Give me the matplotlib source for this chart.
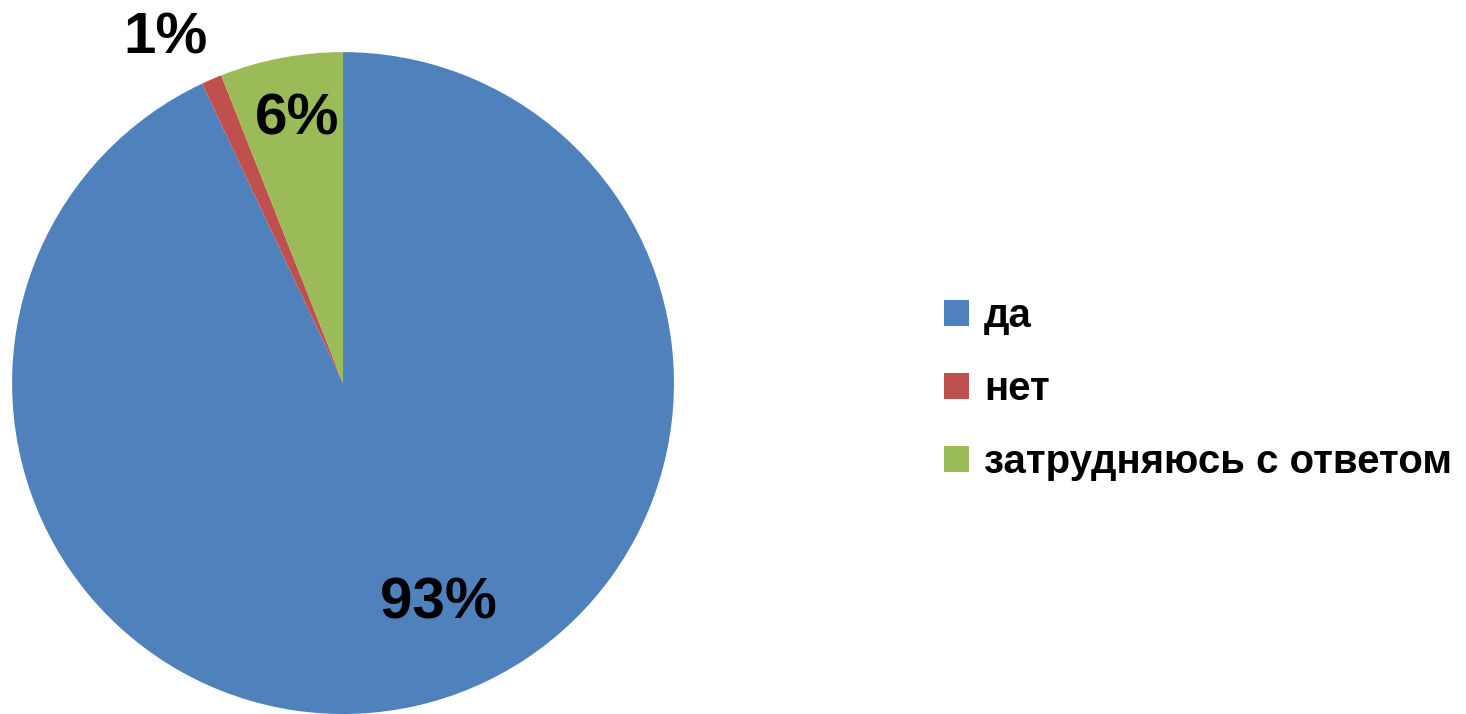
import matplotlib.pyplot as plt
from matplotlib.patches import Patch

plt.rcParams['font.family'] = ['Liberation Sans', 'DejaVu Sans']

# данные опроса
categories = ['да', 'нет', 'затрудняюсь с ответом']
values = [93, 1, 6]
labels = ['93%', '1%', '6%']
colors = ['#4F81BD', '#C0504D', '#9BBB59']

# позиции подписей (в единицах радиуса)
label_pos = [(0.287, -0.665), (-0.535, 1.042), (-0.139, 0.795)]

fig = plt.figure(figsize=(14.66, 7.14), dpi=100)
ax = fig.add_axes([0.00819, 0.0, 0.4516, 0.927])

ax.pie(values, colors=colors, startangle=90, counterclock=False,
       radius=1.0, wedgeprops=dict(linewidth=0))
ax.set_xlim(-1, 1)
ax.set_ylim(-1, 1)
ax.set_aspect('equal')

for (x, y), t in zip(label_pos, labels):
    ax.text(x, y, t, ha='center', va='center', fontsize=42,
            fontweight='bold', color='black', clip_on=False)

handles = [Patch(facecolor=c, edgecolor='none') for c in colors]
fig.legend(handles, categories, loc='center left',
           bbox_to_anchor=(0.6193, 0.455), frameon=False,
           prop=dict(size=29, weight='bold'),
           handlelength=0.62, handleheight=0.62, handletextpad=0.37,
           labelspacing=0.87)

fig.savefig('out.png', dpi=100)
